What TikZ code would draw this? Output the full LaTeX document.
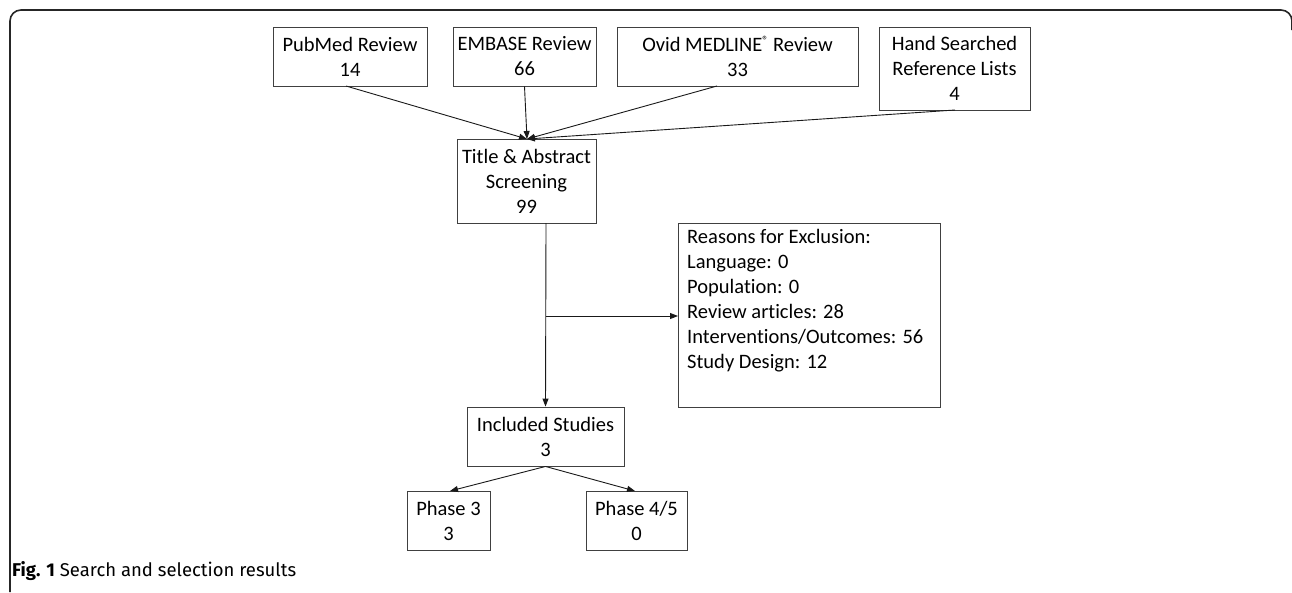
\documentclass[tikz,border=0pt]{standalone}
\usepackage{fontspec}
\setmainfont{Carlito}[Ligatures=NoCommon]
\newfontfamily\capfont{Fira Sans}
\usetikzlibrary{arrows.meta}
\newcommand{\regmark}{\raisebox{0.38em}{\fontsize{12}{12}\selectfont\textregistered}}
\begin{document}
\begin{tikzpicture}[x=1pt,y=-1pt,
  box/.style={draw=black!75,line width=0.9pt,inner sep=0pt,align=center,
    font=\fontsize{20.5}{25}\selectfont},
  arr/.style={draw=black!90,line width=0.9pt,-{Triangle[length=8pt,width=6pt]}},
  ln/.style={draw=black!90,line width=0.9pt}]
\useasboundingbox (0,0) rectangle (1292,592);
\draw[line width=1.6pt,black!85,rounded corners=11pt] (10,592) -- (10,10) -- (1292,10) -- (1292,30);
% top boxes
\node[box,minimum width=154pt,minimum height=59pt] (pub) at (350,56.5) {PubMed Review\\14};
\node[box,minimum width=143pt,minimum height=59pt] (emb) at (524.5,56.5) {EMBASE Review\\66};
\node[box,minimum width=241pt,minimum height=59pt] (ovid) at (737.5,56.5) {Ovid MEDLINE\regmark{} Review\\33};
\node[box,minimum width=151pt,minimum height=83pt] (hand) at (954.5,68.5) {Hand Searched\\Reference Lists\\4};
\node[box,minimum width=139pt,minimum height=84pt] (title) at (526.5,181) {Title \& Abstract\\Screening\\99};
\coordinate (tin) at (527,139);
\draw[arr] (346,86) -- (tin);
\draw[arr] (emb.south) -- (tin);
\draw[arr] (717,86) -- (tin);
\draw[arr] (955,110) -- (tin);
% reasons
\node[draw=black!75,line width=0.9pt,minimum width=262pt,minimum height=184pt,anchor=north west] (rea) at (678,223) {};
\node[anchor=north west,align=left,inner sep=0pt,font=\fontsize{20.5}{25}\selectfont] (reat) at (687,229) {Reasons for Exclusion:\\Language: 0\\Population: 0\\Review articles: 28\\Interventions/Outcomes: 56\\Study Design: 12};
% included
\node[box,minimum width=157pt,minimum height=59pt] (inc) at (545.5,436.5) {Included Studies\\3};
\coordinate (top) at (546,223);
\coordinate (br) at (546,316);
\draw[arr] (top) -- (inc.north);
\draw[arr] (br) -- (rea.west |- br);
% phases
\node[box,minimum width=83pt,minimum height=59pt] (p3) at (448.5,520.5) {Phase 3\\3};
\node[box,minimum width=101pt,minimum height=59pt] (p45) at (636.5,520.5) {Phase 4/5\\0};
\draw[arr] (inc.south) -- (450,491);
\draw[arr] (inc.south) -- (635,491);
% caption
\node[anchor=west,inner sep=0pt,font=\capfont\fontsize{18.5}{22}\selectfont] (cap) at (12,571) {\textbf{Fig. 1} Search and selection results};
\end{tikzpicture}
\end{document}
